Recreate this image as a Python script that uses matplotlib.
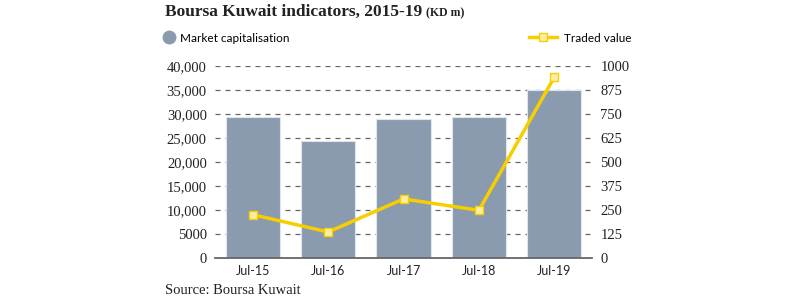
import matplotlib.pyplot as plt
from matplotlib.lines import Line2D
import numpy as np

# Data
periods = ['Jul-15', 'Jul-16', 'Jul-17', 'Jul-18', 'Jul-19']
market_cap = [29250, 24400, 28800, 29250, 35000]      # KD m, left axis
traded_value = [224, 134, 306, 247, 940]              # KD m, right axis

left_ticks = [0, 5000, 10000, 15000, 20000, 25000, 30000, 35000, 40000]
left_labels = ['0', '5000', '10,000', '15,000', '20,000', '25,000', '30,000', '35,000', '40,000']
right_ticks = [0, 125, 250, 375, 500, 625, 750, 875, 1000]

bar_color = '#8a9bb0'
line_color = '#f7cf00'
marker_fill = '#fbeea6'
text_color = '#222222'
serif = 'Liberation Serif'
sans = 'Lato'

fig = plt.figure(figsize=(8, 3), dpi=100)
ax = fig.add_axes([0.269, 0.141, 0.471, 0.640])
ax2 = ax.twinx()

x = np.arange(len(periods))
ax.bar(x, market_cap, width=0.72, color=bar_color, edgecolor='#dfe5ec', linewidth=0.8, zorder=2)
ax.set_xlim(-0.5, len(periods) - 0.5)
ax.set_ylim(0, 40000)
ax.set_yticks(left_ticks)
ax.set_yticklabels(left_labels, fontsize=10.5, family=serif, color=text_color)
ax.set_xticks(x)
ax.set_xticklabels(periods, fontsize=9, family=sans, color=text_color)
ax.tick_params(axis='both', length=0, pad=6)
ax.tick_params(axis='x', pad=5)
ax.grid(axis='y', color='#666666', linestyle=(0, (4, 4)), linewidth=0.9, zorder=0)
ax.set_axisbelow(True)
for s in ['top', 'left', 'right']:
    ax.spines[s].set_visible(False)
ax.spines['bottom'].set_color('#666666')
ax.spines['bottom'].set_linewidth(1.3)
ax.spines['bottom'].set_zorder(3)

ax2.plot(x, traded_value, color=line_color, linewidth=2.5, marker='s', markersize=6,
         markerfacecolor=marker_fill, markeredgecolor=line_color, markeredgewidth=1, zorder=5)
ax2.set_ylim(0, 1000)
ax2.set_yticks(right_ticks)
ax2.set_yticklabels([str(t) for t in right_ticks], fontsize=10.5, family=serif, color=text_color)
ax2.tick_params(axis='y', length=0, pad=6)
for s in ['top', 'left', 'right', 'bottom']:
    ax2.spines[s].set_visible(False)

# Title with smaller unit note
t = fig.text(165 / 800, 1 - 12 / 300, 'Boursa Kuwait indicators, 2015-19', fontsize=12.5,
             fontweight='bold', family=serif, color=text_color, va='center')
fig.canvas.draw()
bb = t.get_window_extent()
fig.text((bb.x1 + 4) / 800, 1 - 13 / 300, '(KD m)', fontsize=8.5, fontweight='bold',
         family=serif, color=text_color, va='center')

# Legends
h1 = Line2D([], [], linestyle='none', marker='o', markersize=9, color=bar_color)
fig.legend(handles=[h1], labels=['Market capitalisation'], loc='center left',
           bbox_to_anchor=(152 / 800, 1 - 38 / 300), frameon=False, handlelength=1,
           handletextpad=0.5, prop={'family': sans, 'size': 8.5})
h2 = Line2D([], [], color=line_color, linewidth=2.5, marker='s', markersize=6,
            markerfacecolor=marker_fill, markeredgecolor=line_color)
fig.legend(handles=[h2], labels=['Traded value'], loc='center left',
           bbox_to_anchor=(518 / 800, 1 - 38 / 300), frameon=False, handlelength=2.4,
           handletextpad=0.6, prop={'family': sans, 'size': 8.5})

fig.text(165 / 800, 1 - 291 / 300, 'Source: Boursa Kuwait', fontsize=10.5, family=serif,
         color=text_color, va='center')

fig.savefig('out.png', dpi=100)
